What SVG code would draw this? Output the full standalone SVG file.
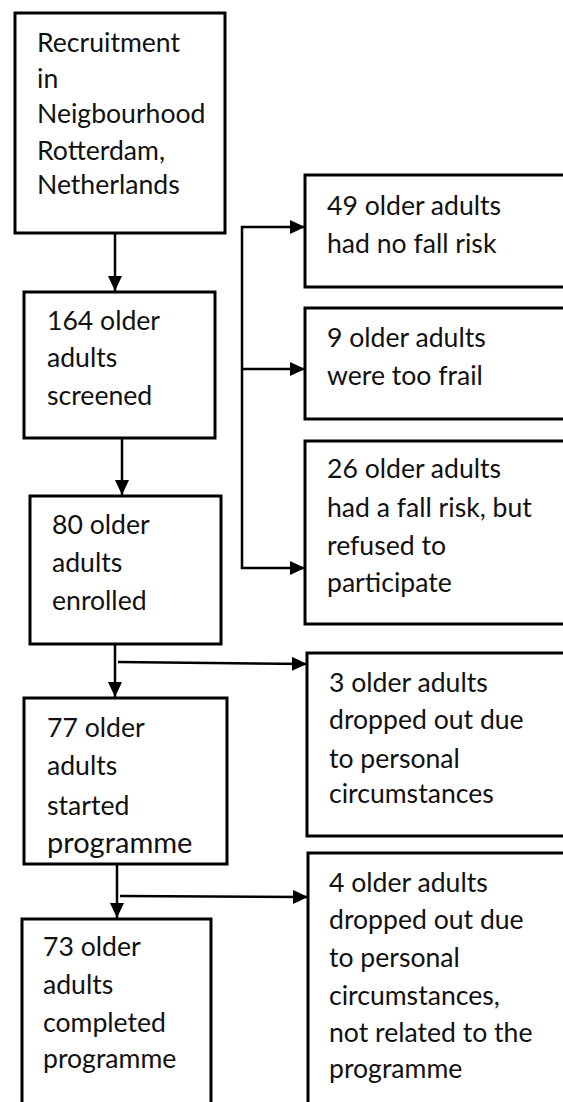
<svg xmlns="http://www.w3.org/2000/svg" width="563" height="1102" viewBox="0 0 563 1102">
<style>
.box{fill:#fff;stroke:#000;stroke-width:3}
.t{font-family:Lato,"Open Sans",sans-serif;font-size:26.6px;fill:#111}
.c{stroke:#000;stroke-width:2.5;fill:none}
.ca{stroke:#000;stroke-width:2.5;fill:none;marker-end:url(#ah)}
</style>
<defs>
<marker id="ah" markerUnits="userSpaceOnUse" markerWidth="16" markerHeight="14" refX="15" refY="7" orient="auto">
<path d="M0,0 L15,7 L0,14 z" fill="#000"/>
</marker>
</defs>
<rect width="563" height="1102" fill="#fff"/>
<g id="connectors">
<line class="ca" x1="115" y1="234" x2="115" y2="291"/>
<line class="ca" x1="122" y1="439" x2="122" y2="495"/>
<line class="c" x1="242" y1="226" x2="242" y2="569"/>
<line class="ca" x1="241" y1="227" x2="305" y2="227"/>
<line class="ca" x1="241" y1="369" x2="305" y2="369"/>
<line class="ca" x1="241" y1="568" x2="305" y2="568"/>
<line class="ca" x1="115" y1="645" x2="115" y2="697"/>
<line class="ca" x1="118" y1="662" x2="307" y2="664"/>
<line class="ca" x1="117" y1="865" x2="117" y2="918"/>
<line class="ca" x1="120" y1="896" x2="308" y2="897"/>
</g>
<g id="recruitment">
<rect class="box" x="15" y="13" width="210" height="220"/>
<text class="t" x="37" y="52">Recruitment</text>
<text class="t" x="37" y="88">in</text>
<text class="t" x="37" y="123">Neigbourhood</text>
<text class="t" x="37" y="160">Rotterdam,</text>
<text class="t" x="37" y="194">Netherlands</text>
</g>
<g id="screened">
<rect class="box" x="24" y="292" width="191" height="146"/>
<text class="t" x="47" y="330">164 older</text>
<text class="t" x="47" y="367">adults</text>
<text class="t" x="47" y="405">screened</text>
</g>
<g id="enrolled">
<rect class="box" x="30" y="496" width="191" height="148"/>
<text class="t" x="52" y="534">80 older</text>
<text class="t" x="52" y="572">adults</text>
<text class="t" x="52" y="610">enrolled</text>
</g>
<g id="started">
<rect class="box" x="24" y="698" width="203" height="166"/>
<text class="t" x="47" y="737">77 older</text>
<text class="t" x="47" y="775">adults</text>
<text class="t" x="47" y="815">started</text>
<text class="t" x="47" y="853" style="font-size:29px">programme</text>
</g>
<g id="completed">
<rect class="box" x="22" y="919" width="189" height="200"/>
<text class="t" x="43" y="956">73 older</text>
<text class="t" x="43" y="994">adults</text>
<text class="t" x="43" y="1032">completed</text>
<text class="t" x="43" y="1068">programme</text>
</g>
<g id="nofallrisk">
<rect class="box" x="305" y="175" width="270" height="112"/>
<text class="t" x="327" y="215">49 older adults</text>
<text class="t" x="327" y="253">had no fall risk</text>
</g>
<g id="toofrail">
<rect class="box" x="305" y="308" width="270" height="111"/>
<text class="t" x="327" y="347">9 older adults</text>
<text class="t" x="327" y="385">were too frail</text>
</g>
<g id="refused">
<rect class="box" x="305" y="441" width="270" height="183"/>
<text class="t" x="327" y="478">26 older adults</text>
<text class="t" x="327" y="517">had a fall risk, but</text>
<text class="t" x="327" y="555">refused to</text>
<text class="t" x="327" y="592">participate</text>
</g>
<g id="dropout1">
<rect class="box" x="307" y="653" width="270" height="183"/>
<text class="t" x="329" y="692">3 older adults</text>
<text class="t" x="329" y="729">dropped out due</text>
<text class="t" x="329" y="768">to personal</text>
<text class="t" x="329" y="803">circumstances</text>
</g>
<g id="dropout2">
<rect class="box" x="308" y="853" width="270" height="270"/>
<text class="t" x="329" y="892">4 older adults</text>
<text class="t" x="329" y="929">dropped out due</text>
<text class="t" x="329" y="967">to personal</text>
<text class="t" x="329" y="1005">circumstances,</text>
<text class="t" x="329" y="1042">not related to the</text>
<text class="t" x="329" y="1078">programme</text>
</g>
</svg>
